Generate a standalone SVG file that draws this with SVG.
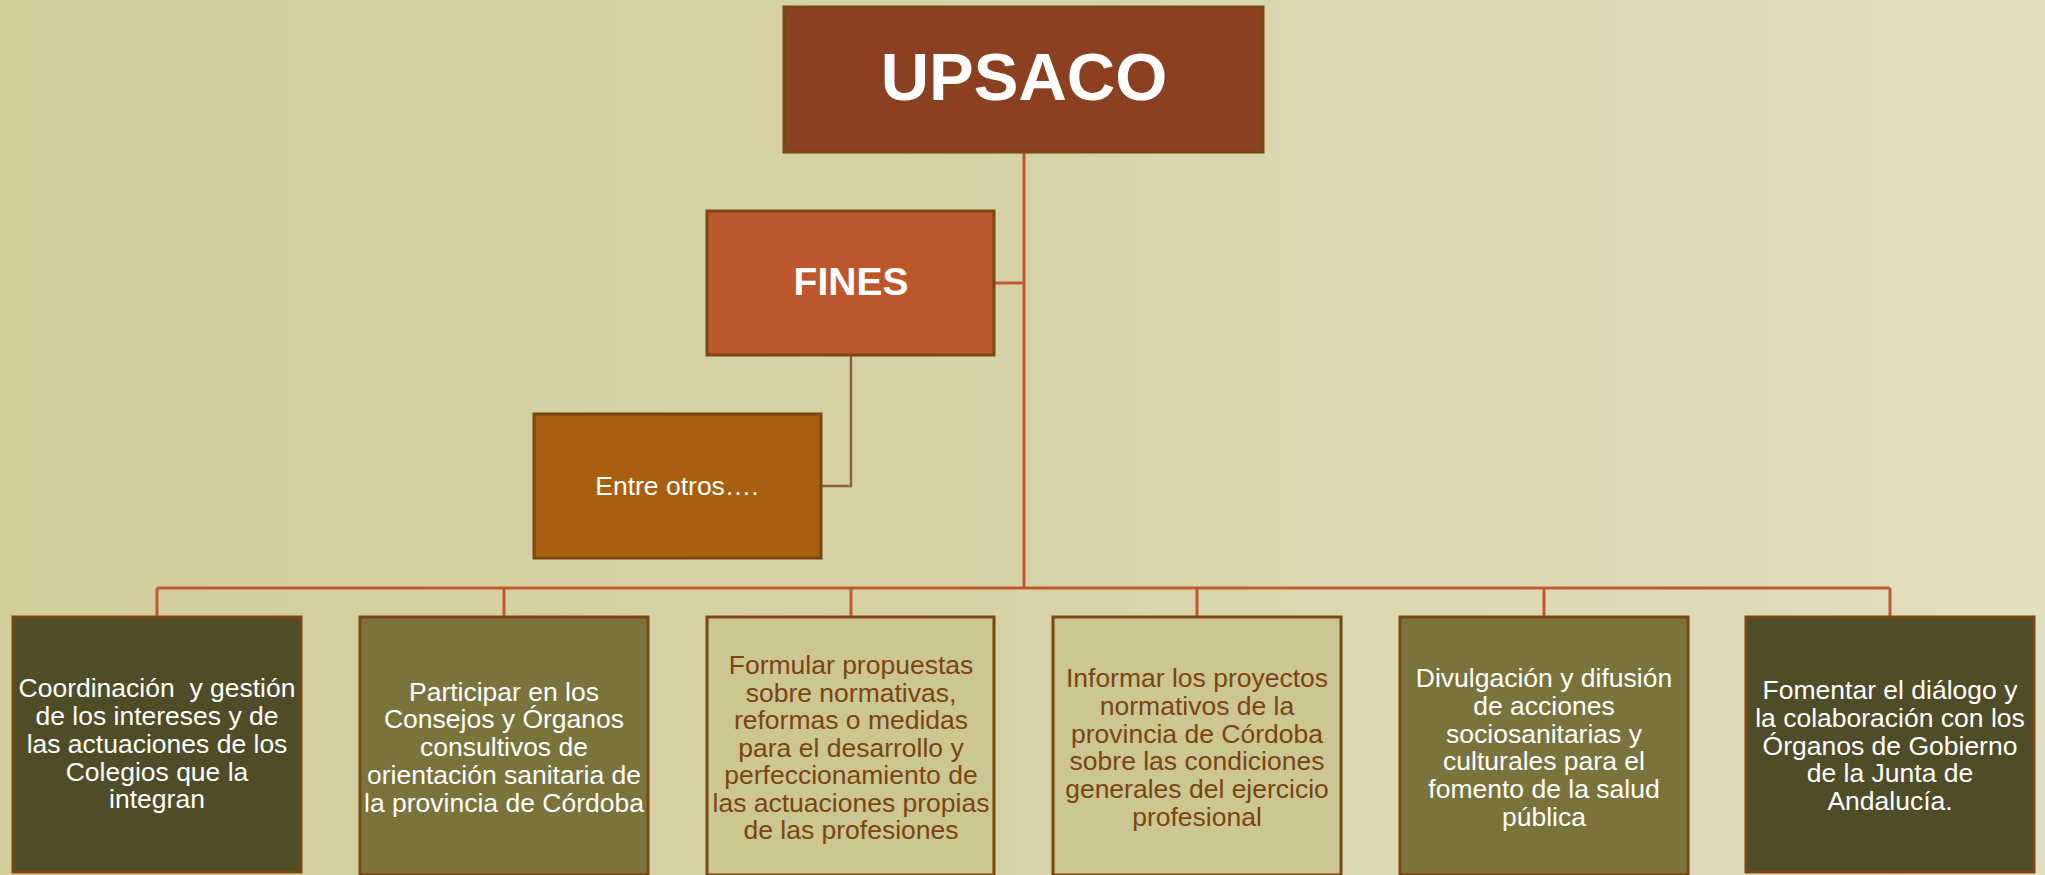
<svg xmlns="http://www.w3.org/2000/svg" width="2045" height="875" viewBox="0 0 2045 875">
<defs>
<linearGradient id="bg" x1="0" y1="0" x2="1" y2="0">
<stop offset="0" stop-color="#D2CE9A"/>
<stop offset="0.5" stop-color="#D7D3A8"/>
<stop offset="1" stop-color="#E3DFC2"/>
</linearGradient>
</defs>
<style>
.box{stroke:#7A4612;stroke-width:3}
.conn{fill:none;stroke:#C05A2F;stroke-width:3}
.conn2{fill:none;stroke:#8C6242;stroke-width:2.5}
.t{font-family:"Liberation Sans",Arial,sans-serif;text-anchor:middle;font-size:26.5px}
.w{fill:#FFFFFF}
.b{fill:#7A4510}
.h{font-weight:bold}
.pre{white-space:pre}
</style>
<rect x="0" y="0" width="2045" height="875" fill="url(#bg)"/>
<g id="connectors">
<path class="conn" d="M1024 152 V588"/>
<path class="conn" d="M994 283 H1024"/>
<path class="conn" d="M157 588 H1890"/>
<path class="conn" d="M157 588 V617 M504 588 V617 M851 588 V617 M1197 588 V617 M1544 588 V617 M1890 588 V617"/>
<path class="conn2" d="M851 356 V486 H821"/>
</g>
<g id="upsaco">
<rect class="box" x="784" y="7" width="479" height="145" fill="#8B4022"/>
<text class="t w h" x="1024" y="100" style="font-size:67px">UPSACO</text>
</g>
<g id="fines">
<rect class="box" x="707" y="211" width="287" height="144" fill="#BC572C"/>
<text class="t w h" x="851" y="295" style="font-size:39px">FINES</text>
</g>
<g id="entre">
<rect class="box" x="534" y="414" width="287" height="144" fill="#A9600E"/>
<text class="t w" x="677" y="495">Entre otros….</text>
</g>
<g id="n1">
<rect class="box" x="13" y="617" width="288" height="255" fill="#4F4C28"/>
<text class="t w pre" x="157" y="697.3" xml:space="preserve">Coordinación  y gestión</text>
<text class="t w" x="157" y="725">de los intereses y de</text>
<text class="t w" x="157" y="752.8">las actuaciones de los</text>
<text class="t w" x="157" y="780.5">Colegios que la</text>
<text class="t w" x="157" y="808.3">integran</text>
</g>
<g id="n2">
<rect class="box" x="360" y="617" width="288" height="258" fill="#7A743C"/>
<text class="t w" x="504" y="700.5">Participar en los</text>
<text class="t w" x="504" y="728.3">Consejos y Órganos</text>
<text class="t w" x="504" y="756">consultivos de</text>
<text class="t w" x="504" y="783.8">orientación sanitaria de</text>
<text class="t w" x="504" y="811.5">la provincia de Córdoba</text>
</g>
<g id="n3">
<rect class="box" x="707" y="617" width="287" height="258" fill="#CBC692"/>
<text class="t b" x="851" y="674">Formular propuestas</text>
<text class="t b" x="851" y="701.5">sobre normativas,</text>
<text class="t b" x="851" y="729">reformas o medidas</text>
<text class="t b" x="851" y="756.5">para el desarrollo y</text>
<text class="t b" x="851" y="784">perfeccionamiento de</text>
<text class="t b" x="851" y="811.5">las actuaciones propias</text>
<text class="t b" x="851" y="839">de las profesiones</text>
</g>
<g id="n4">
<rect class="box" x="1053" y="617" width="288" height="258" fill="#CBC692"/>
<text class="t b" x="1197" y="687.3">Informar los proyectos</text>
<text class="t b" x="1197" y="715">normativos de la</text>
<text class="t b" x="1197" y="742.7">provincia de Córdoba</text>
<text class="t b" x="1197" y="770.4">sobre las condiciones</text>
<text class="t b" x="1197" y="798">generales del ejercicio</text>
<text class="t b" x="1197" y="825.7">profesional</text>
</g>
<g id="n5">
<rect class="box" x="1400" y="617" width="288" height="258" fill="#7A743C"/>
<text class="t w" x="1544" y="687.3">Divulgación y difusión</text>
<text class="t w" x="1544" y="715">de acciones</text>
<text class="t w" x="1544" y="742.7">sociosanitarias y</text>
<text class="t w" x="1544" y="770.4">culturales para el</text>
<text class="t w" x="1544" y="798">fomento de la salud</text>
<text class="t w" x="1544" y="825.7">pública</text>
</g>
<g id="n6">
<rect class="box" x="1746" y="617" width="288" height="255" fill="#4F4C28"/>
<text class="t w" x="1890" y="699.3">Fomentar el diálogo y</text>
<text class="t w" x="1890" y="727">la colaboración con los</text>
<text class="t w" x="1890" y="754.7">Órganos de Gobierno</text>
<text class="t w" x="1890" y="782.4">de la Junta de</text>
<text class="t w" x="1890" y="810">Andalucía.</text>
</g>
</svg>
